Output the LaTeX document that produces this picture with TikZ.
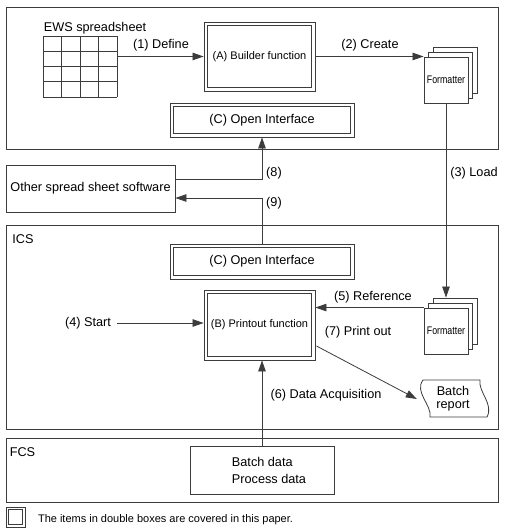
\documentclass[tikz,border=0pt]{standalone}
\usepackage{fontspec}
\usepackage{graphicx}
\setmainfont{Liberation Sans}
\usetikzlibrary{arrows.meta,calc}
\definecolor{ln}{RGB}{60,60,60}
\begin{document}
\begin{tikzpicture}[x=1pt,y=-1pt,
  every node/.style={font=\fontsize{12.7}{15}\selectfont, text=black},
  frame/.style={draw=ln, line width=0.9pt, inner sep=0pt},
  box/.style={draw=ln, line width=0.9pt, fill=white, inner sep=0pt},
  smallfont/.style={font=\fontsize{11}{13}\selectfont},
  arr/.style={draw=ln, line width=0.8pt, -{Triangle[length=11pt,width=7.5pt]}},
  thin/.style={draw=ln, line width=0.8pt},
  fmt/.style={box, minimum width=44pt, minimum height=46pt, font=\fontsize{11}{13}\selectfont}]
\useasboundingbox[fill=white] (0,0) rectangle (506,532);
% frames
\node[frame, minimum width=492pt, minimum height=142pt] (EWS) at (252,78) {};
\node[frame, minimum width=492pt, minimum height=204pt] (ICS) at (252,327) {};
\node[frame, minimum width=492pt, minimum height=64pt] (FCS) at (252,470) {};
\node (ewslbl) at (95,28) {EWS spreadsheet};
\node (icslbl) at (23,239) {ICS};
\node (fcslbl) at (22.5,452) {FCS};
% spreadsheet grid
\node[inner sep=0pt, minimum width=74pt, minimum height=61pt] (grid) at (80,66.5) {};
\foreach \i in {0,...,4} {
  \draw[thin] (43+\i*18.5,36) -- (43+\i*18.5,97);
  \draw[thin] (43,36+\i*15.25) -- (117,36+\i*15.25);
}
% double boxes (outer node + inner rectangle)
\node[box, smallfont, minimum width=111pt, minimum height=69pt] (A) at (259.5,56.5) {(A) Builder function};
\node[box, minimum width=184pt, minimum height=34pt] (C1) at (262,120) {(C) Open Interface};
\node[box, minimum width=184pt, minimum height=35pt] (C2) at (262,261.5) {(C) Open Interface};
\node[box, smallfont, minimum width=111pt, minimum height=70pt] (B) at (259.5,325) {(B) Printout function};
\node[box, minimum width=19pt, minimum height=20pt] (L) at (15.5,517) {};
\foreach \n/\d in {A/4,C1/4,C2/4,B/4,L/3}
  \draw[thin] ($(\n.north west)+(\d,\d)$) rectangle ($(\n.south east)+(-\d,-\d)$);
% formatter stacks
\node[fmt] (F1c) at (455,70) {};
\node[fmt] (F1b) at (450.5,75) {};
\node[fmt] (F1) at (446,80) {\scalebox{0.8}[1]{Formatter}};
\node[fmt] (F2c) at (455,321) {};
\node[fmt] (F2b) at (450.5,326) {};
\node[fmt] (F2) at (446,331) {\scalebox{0.8}[1]{Formatter}};
% other boxes
\node[box, minimum width=169pt, minimum height=47pt] (O) at (90.5,188.5) {Other spread sheet software};
\node[box, minimum width=144pt, minimum height=48pt] (D) at (262,470) {};
\node[align=left, font=\fontsize{12.7}{17}\selectfont] (DT) at (269,470.5) {Batch data\\Process data};
% batch report
\draw[thin, fill=white] (423,380) -- (480,380) .. controls (478,392) and (494,404) .. (487,417)
  -- (430,417) .. controls (432,405) and (414,392) .. (423,380) -- cycle;
\node[align=center, font=\fontsize{12.7}{13}\selectfont, minimum width=72pt, inner sep=0pt] (R) at (453,399) {Batch\\report};
% connectors
\draw[arr] (grid.east |- A.west) -- (A.west);
\node (l1) at (161,45) {(1) Define};
\draw[arr] (A.east) -- (A.east -| F1.west);
\node (l2) at (370,45) {(2) Create};
\draw[arr] (F1.south) -- (F1.south |- F2c.north);
\node (l3) at (474,173) {(3) Load};
\node (S) at (88,323) {(4) Start};
\draw[arr] ([xshift=3pt]S.east) -- (S.east -| B.west);
\draw[arr] (F2.north west) -- (F2.north west -| B.east);
\node (l5) at (373,297) {(5) Reference};
\draw[arr] (D.north) -- (D.north |- B.south);
\node (l6) at (326,395) {(6) Data Acquisition};
\coordinate (p7) at ($(B.east)+(1,21)$);
\draw[arr] (p7) -- (R.west);
\node (l7) at (358,332) {(7) Print out};
\draw[arr] ($(O.east)+(0,-9.5)$) -| (C1.south);
\node (l8) at (274,173) {(8)};
\draw[arr] (C2.north) |- ($(O.east)+(0,9.5)$);
\node (l9) at (274,203) {(9)};
% legend
\node[anchor=west, font=\fontsize{11}{13}\selectfont] (LT) at (34.5,520) {The items in double boxes are covered in this paper.};
\end{tikzpicture}
\end{document}
